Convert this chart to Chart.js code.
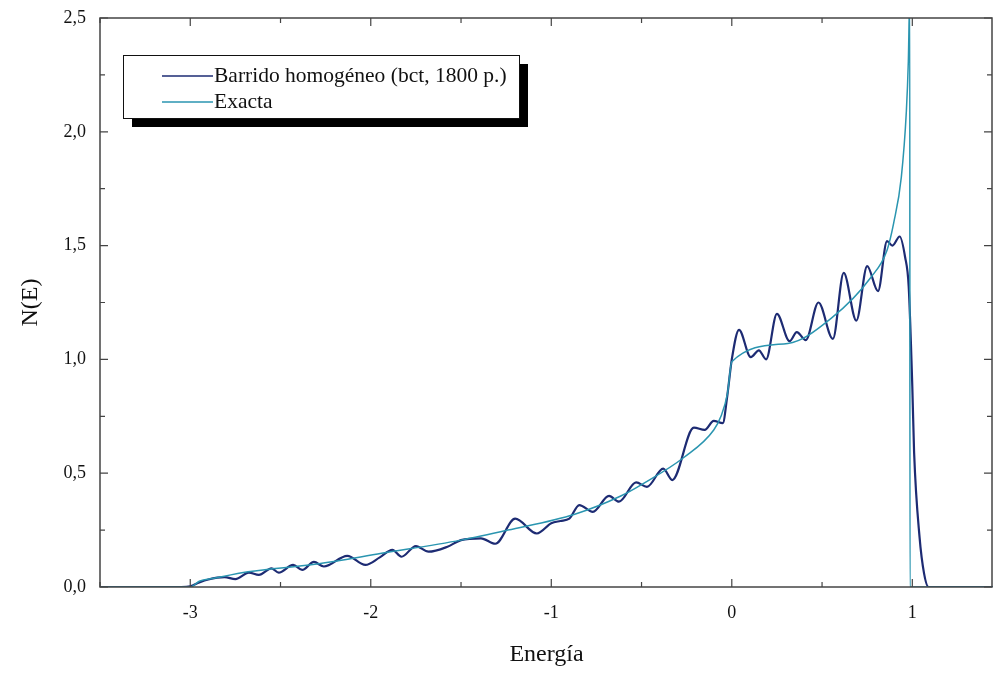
<!DOCTYPE html>
<html>
<head>
<meta charset="utf-8">
<script src="https://cdn.jsdelivr.net/npm/chart.js@4.4.1/dist/chart.umd.min.js"></script>
<style>
  html, body { margin: 0; padding: 0; background: #fff; }
  #wrap { width: 993px; height: 675px; }
</style>
</head>
<body>
<div id="wrap"><canvas id="dosChart" width="993" height="675"></canvas></div>
<script>
// Barrido homogeneo (bct, 1800 p.)
const energiaBarrido = [-3.5, -3.05, -3.0, -2.95, -2.9, -2.81, -2.75, -2.675, -2.62, -2.55, -2.51, -2.43, -2.38,
  -2.315, -2.26, -2.13, -2.03, -1.95, -1.88, -1.83, -1.75, -1.68, -1.575, -1.5, -1.39, -1.31, -1.2, -1.08,
  -1.0, -0.95, -0.9, -0.845, -0.77, -0.68, -0.625, -0.53, -0.47, -0.38, -0.33, -0.21, -0.15, -0.1, -0.05,
  -0.025, 0.0, 0.04, 0.105, 0.15, 0.19, 0.25, 0.32, 0.36, 0.41, 0.48, 0.56, 0.62, 0.69, 0.75, 0.81, 0.86,
  0.89, 0.93, 0.96, 0.98, 1.0, 1.01, 1.04, 1.065, 1.09, 1.447];
const nBarrido = [0, 0, 0.003, 0.02, 0.033, 0.043, 0.035, 0.063, 0.053, 0.082, 0.063, 0.097, 0.075,
  0.11, 0.09, 0.137, 0.097, 0.13, 0.163, 0.133, 0.18, 0.155, 0.177, 0.206, 0.214, 0.19, 0.30, 0.235,
  0.28, 0.29, 0.30, 0.36, 0.33, 0.40, 0.375, 0.46, 0.44, 0.52, 0.47, 0.70, 0.69, 0.73, 0.72,
  0.84, 1.0, 1.13, 1.01, 1.04, 1.0, 1.20, 1.08, 1.12, 1.085, 1.25, 1.09, 1.38, 1.17, 1.41, 1.30, 1.52,
  1.50, 1.54, 1.45, 1.32, 0.88, 0.59, 0.22, 0.06, 0, 0];

// Exacta
const energiaExacta = [-3.5, -3.0, -2.95, -2.87, -2.68, -2.31, -1.94, -1.5, -1.24, -0.87, -0.615, -0.5,
  -0.264, -0.1, -0.06, -0.024, 0.0, 0.31, 0.55, 0.77, 0.86, 0.897, 0.939, 0.967, 0.978, 0.986, 0.987, 1.447];
const nExacta = [0, 0, 0.025, 0.038, 0.067, 0.10, 0.148, 0.206, 0.25, 0.32, 0.40, 0.45,
  0.57, 0.69, 0.75, 0.85, 0.99, 1.07, 1.18, 1.36, 1.48, 1.60, 1.80, 2.09, 2.31, 2.6, 0, 0];

const xTicks = [-3, -2, -1, 0, 1];
const xTickLabels = ['-3', '-2', '-1', '0', '1'];
const xMinorTicks = [-3.5, -2.5, -1.5, -0.5, 0.5];
const yTicks = [0, 0.5, 1.0, 1.5, 2.0, 2.5];
const yTickLabels = ['0,0', '0,5', '1,0', '1,5', '2,0', '2,5'];
const yMinorTicks = [0.25, 0.75, 1.25, 1.75, 2.25];

const colorBarrido = '#1d2b73';
const colorExacta = '#2a95b0';
const serif = '"Liberation Serif", "Times New Roman", serif';

const toPoints = (xs, ys) => xs.map((x, i) => ({ x: x, y: ys[i] }));

// frame, inward ticks and the boxed legend with its drop shadow
const framePlugin = {
  id: 'frameLegend',
  afterDraw(chart) {
    const { ctx, chartArea: a, scales: { x, y } } = chart;
    const right = Math.min(a.right, chart.width - 1);
    ctx.save();
    ctx.strokeStyle = '#444';
    ctx.lineWidth = 1.5;
    ctx.strokeRect(a.left, a.top, right - a.left, a.bottom - a.top);

    ctx.lineWidth = 1.2;
    ctx.beginPath();
    const tickX = (v, len) => {
      const px = x.getPixelForValue(v);
      ctx.moveTo(px, a.bottom); ctx.lineTo(px, a.bottom - len);
      ctx.moveTo(px, a.top); ctx.lineTo(px, a.top + len);
    };
    const tickY = (v, len) => {
      const py = y.getPixelForValue(v);
      ctx.moveTo(a.left, py); ctx.lineTo(a.left + len, py);
      ctx.moveTo(right, py); ctx.lineTo(right - len, py);
    };
    xTicks.forEach(v => tickX(v, 8));
    xMinorTicks.forEach(v => tickX(v, 5));
    yTicks.forEach(v => tickY(v, 8));
    yMinorTicks.forEach(v => tickY(v, 5));
    ctx.stroke();

    // legend
    const bx = 123, by = 55, bw = 396, bh = 63, sh = 9;
    ctx.fillStyle = '#000';
    ctx.fillRect(bx + sh, by + sh, bw, bh);
    ctx.fillStyle = '#fff';
    ctx.fillRect(bx, by, bw, bh);
    ctx.strokeStyle = '#111';
    ctx.lineWidth = 1;
    ctx.strokeRect(bx + 0.5, by + 0.5, bw, bh);

    ctx.font = '21.5px ' + serif;
    ctx.textBaseline = 'middle';
    chart.data.datasets.forEach((ds, i) => {
      const ly = 76 + i * 26;
      ctx.strokeStyle = ds.borderColor;
      ctx.lineWidth = 1.5;
      ctx.beginPath();
      ctx.moveTo(162, ly); ctx.lineTo(213, ly);
      ctx.stroke();
      ctx.fillStyle = '#111';
      ctx.fillText(ds.label, 214, ly);
    });
    ctx.restore();
  }
};

const chart = new Chart(document.getElementById('dosChart'), {
  type: 'line',
  data: {
    datasets: [
      {
        label: 'Barrido homogéneo (bct, 1800 p.)',
        data: toPoints(energiaBarrido, nBarrido),
        borderColor: colorBarrido,
        borderWidth: 2.2,
        pointRadius: 0,
        cubicInterpolationMode: 'monotone',
        order: 2
      },
      {
        label: 'Exacta',
        data: toPoints(energiaExacta, nExacta),
        borderColor: colorExacta,
        borderWidth: 1.5,
        pointRadius: 0,
        cubicInterpolationMode: 'monotone',
        order: 1
      }
    ]
  },
  options: {
    responsive: false,
    animation: false,
    layout: { padding: { top: 18, right: 0, left: 0, bottom: 0 } },
    plugins: { legend: { display: false }, tooltip: { enabled: false } },
    scales: {
      x: {
        type: 'linear',
        min: -3.5,
        max: 1.447,
        grid: { display: false, drawTicks: false },
        border: { display: false },
        afterFit: s => { s.height = 88; s.paddingLeft = 0; s.paddingRight = 0; },
        afterBuildTicks: s => { s.ticks = xTicks.map(v => ({ value: v })); },
        ticks: {
          padding: 15,
          color: '#111',
          font: { family: serif, size: 18 },
          callback: (v, i) => xTickLabels[i]
        },
        title: {
          display: true,
          text: 'Energía',
          color: '#111',
          font: { family: serif, size: 24 },
          padding: { top: 0, bottom: 6 }
        }
      },
      y: {
        min: 0,
        max: 2.5,
        grid: { display: false, drawTicks: false },
        border: { display: false },
        afterFit: s => { s.width = 100; s.paddingTop = 0; s.paddingBottom = 0; },
        afterBuildTicks: s => { s.ticks = yTicks.map(v => ({ value: v })); },
        ticks: {
          padding: 14,
          color: '#111',
          font: { family: serif, size: 18 },
          callback: (v, i) => yTickLabels[i]
        },
        title: {
          display: true,
          text: 'N(E)',
          color: '#111',
          font: { family: serif, size: 24 },
          padding: { top: 16, bottom: 0 }
        }
      }
    }
  },
  plugins: [framePlugin]
});
</script>
</body>
</html>
